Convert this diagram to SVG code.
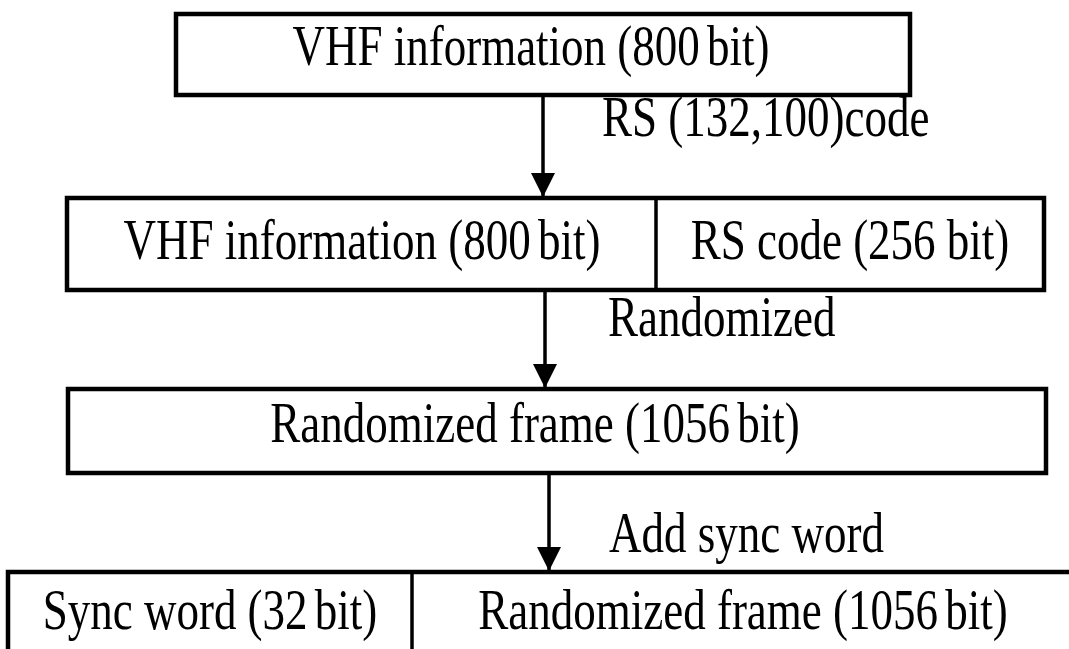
<svg xmlns="http://www.w3.org/2000/svg" width="1069" height="649" viewBox="0 0 1069 649">
  <style>
    .box { fill: #fff; stroke: #000; stroke-width: 4.5; }
    .div { stroke: #000; stroke-width: 3.5; }
    .lbl { font-family: "Liberation Serif", "Times New Roman", serif; font-size: 45px; fill: #000; }
    .mid { text-anchor: middle; }
    .edge { stroke: #000; stroke-width: 3.5; fill: none; marker-end: url(#arrow); }
  </style>
  <defs>
    <!-- solid triangular arrowhead, tip at the end of the line -->
    <marker id="arrow" markerWidth="24" markerHeight="24" refX="24" refY="12" orient="auto" markerUnits="userSpaceOnUse" viewBox="0 0 24 24">
      <path d="M0,0 L24,12 L0,24 Z" fill="#000"/>
    </marker>
  </defs>
  <rect width="1069" height="649" fill="#fff"/>

  <g id="connectors">
    <line class="edge" x1="543" y1="95" x2="543" y2="197"/>
    <line class="edge" x1="545" y1="290" x2="545" y2="388"/>
    <line class="edge" x1="549" y1="473" x2="549" y2="571"/>
    <text class="lbl" transform="translate(602,136) scale(1,1.25)">RS (132,100)code</text>
    <text class="lbl" transform="translate(608,336) scale(1,1.25)">Randomized</text>
    <text class="lbl" transform="translate(609,552) scale(1,1.25)">Add sync word</text>
  </g>

  <g id="vhf-info">
    <rect class="box" x="176" y="14" width="734" height="81"/>
    <text class="lbl mid" transform="translate(531,65) scale(1,1.25)">VHF information (800<tspan dx="-4"> bit)</tspan></text>
  </g>

  <g id="rs-coded-frame">
    <rect class="box" x="67" y="198" width="977" height="92"/>
    <line class="div" x1="656" y1="198" x2="656" y2="290"/>
    <text class="lbl mid" transform="translate(362,259) scale(1,1.25)">VHF information (800<tspan dx="-4"> bit)</tspan></text>
    <text class="lbl mid" transform="translate(850,259) scale(1,1.25)">RS code (256 bit)</text>
  </g>

  <g id="randomized-frame">
    <rect class="box" x="68" y="389" width="978" height="84"/>
    <text class="lbl mid" transform="translate(535,442) scale(1,1.25)">Randomized frame (1056<tspan dx="-4"> bit)</tspan></text>
  </g>

  <g id="output-frame">
    <rect class="box" x="8" y="572" width="1075" height="100"/>
    <line class="div" x1="412" y1="572" x2="412" y2="649"/>
    <text class="lbl mid" transform="translate(210,629) scale(1,1.25)">Sync word (32<tspan dx="-4"> bit)</tspan></text>
    <text class="lbl mid" transform="translate(743,629) scale(1,1.25)">Randomized frame (1056<tspan dx="-4"> bit)</tspan></text>
  </g>
</svg>
